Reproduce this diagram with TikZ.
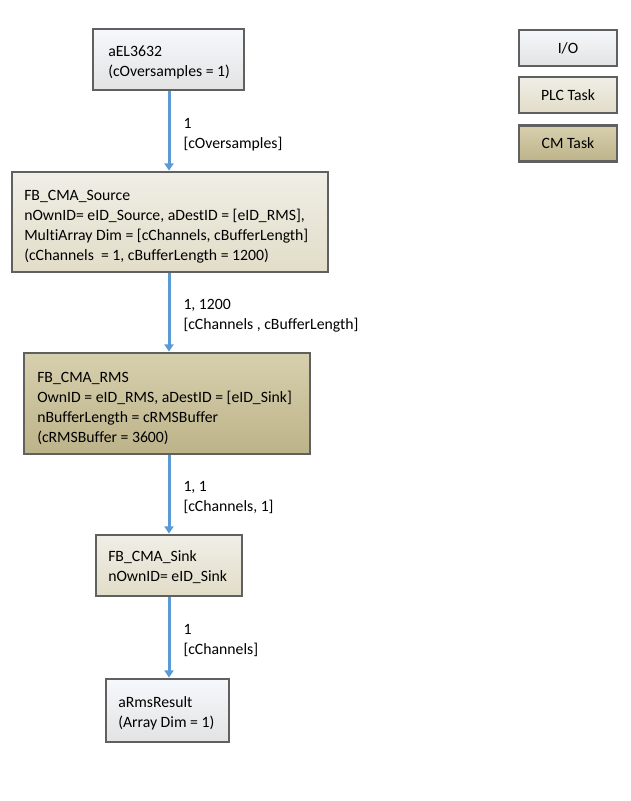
\documentclass[tikz,border=0pt]{standalone}
\usepackage{fontspec}
\setmainfont[Ligatures=NoCommon]{Carlito}
\usetikzlibrary{arrows.meta}
\definecolor{arrowblue}{HTML}{5B9BD5}
\definecolor{boxline}{HTML}{606060}
\definecolor{iotop}{HTML}{F5F8FC}
\definecolor{iobot}{HTML}{E3E3E3}
\definecolor{plctop}{HTML}{F0EEE6}
\definecolor{plcbot}{HTML}{E2DDC8}
\definecolor{cmtop}{HTML}{D7D0AE}
\definecolor{cmbot}{HTML}{BDB389}
\tikzset{
  base/.style={draw=boxline, line width=2pt, rectangle, inner sep=0pt, font=\fontsize{11.8}{15}\selectfont},
  iobox/.style={base, top color=iotop, bottom color=iobot},
  plcbox/.style={base, top color=plctop, bottom color=plcbot},
  cmbox/.style={base, top color=cmtop, bottom color=cmbot},
  txt/.style={anchor=west, inner sep=0pt, align=left, font=\fontsize{11.8}{15}\selectfont},
  arr/.style={draw=arrowblue, line width=2.25pt, -{Triangle[width=6.75pt,length=5.5pt]}},
  lbl/.style={anchor=west, xshift=9.75pt, yshift=-2.5pt, inner sep=0pt, align=left, font=\fontsize{11.8}{15}\selectfont},
}
\begin{document}
\begin{tikzpicture}[x=0.75pt, y=-0.75pt]
\useasboundingbox (0,0) rectangle (631,801);

% main chain boxes
\node[iobox, minimum width=113.25pt, minimum height=45.75pt] (el) at (168.5,59.5) {};
\node[plcbox, minimum width=237pt, minimum height=75pt] (src) at (170,222) {};
\node[cmbox, minimum width=214.5pt, minimum height=75.75pt] (rms) at (167,403.5) {};
\node[plcbox, minimum width=109.5pt, minimum height=45.75pt] (sink) at (169,565.5) {};
\node[iobox, minimum width=92.25pt, minimum height=47.25pt] (res) at (167.5,710.5) {};

% box texts
\node[txt] (elt) at (108,62) {aEL3632\\(cOversamples = 1)};
\node[txt] (srct) at (24,227) {FB\_CMA\_Source\\nOwnID= eID\_Source, aDestID = {[}eID\_RMS{]},\\MultiArray Dim = {[}cChannels, cBufferLength{]}\\(cChannels\ \ = 1, cBufferLength = 1200)};
\node[txt] (rmst) at (37,408) {FB\_CMA\_RMS\\OwnID = eID\_RMS, aDestID = {[}eID\_Sink{]}\\nBufferLength = cRMSBuffer\\(cRMSBuffer = 3600)};
\node[txt] (sinkt) at (108,567) {FB\_CMA\_Sink\\nOwnID= eID\_Sink};
\node[txt] (rest) at (118,713) {aRmsResult\\(Array Dim = 1)};

% connectors
\coordinate (x0) at (169,0);
\draw[arr] (el.south -| x0) -- node[lbl]{1\\{[}cOversamples{]}} (src.north -| x0);
\draw[arr] (src.south -| x0) -- node[lbl]{1, 1200\\{[}cChannels , cBufferLength{]}} (rms.north -| x0);
\draw[arr] (rms.south -| x0) -- node[lbl]{1, 1\\{[}cChannels, 1{]}} (sink.north -| x0);
\draw[arr] (sink.south -| x0) -- node[lbl]{1\\{[}cChannels{]}} (res.north -| x0);

% legend
\node[iobox, minimum width=73.5pt, minimum height=27pt] (lio) at (568,48) {I/O};
\node[plcbox, minimum width=73.5pt, minimum height=27pt] (lplc) at (568,95) {PLC Task};
\node[cmbox, minimum width=73.5pt, minimum height=27pt] (lcm) at (568,143.5) {CM Task};
\end{tikzpicture}
\end{document}
